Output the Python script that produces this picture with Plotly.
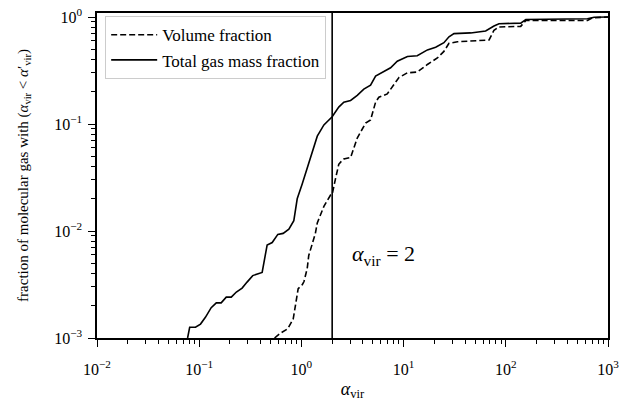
import plotly.graph_objects as go
import numpy as np

# Total gas mass fraction (solid)
alpha_mass = [0.077, 0.0807, 0.092, 0.103, 0.115, 0.131, 0.147, 0.164, 0.184, 0.206,
              0.231, 0.263, 0.294, 0.334, 0.413, 0.462, 0.518, 0.588, 0.663, 0.754,
              0.843, 0.91, 1.02, 1.14, 1.28, 1.43, 1.66, 2.0, 2.32, 2.60,
              3.03, 3.52, 4.08, 4.75, 5.32, 6.42, 7.46, 8.67, 10.9, 13.6,
              17.1, 20.6, 24.8, 27.8, 31.1, 45.3, 63.5, 76.6, 85.7, 140,
              157, 630, 731, 1000]
frac_mass = [1.0e-3, 1.26e-3, 1.26e-3, 1.35e-3, 1.56e-3, 1.92e-3, 2.13e-3, 2.13e-3, 2.41e-3, 2.41e-3,
             2.69e-3, 2.93e-3, 3.33e-3, 3.83e-3, 4.1e-3, 7.4e-3, 7.8e-3, 9.3e-3, 9.5e-3, 1.04e-2,
             1.25e-2, 2.0e-2, 2.77e-2, 3.94e-2, 5.6e-2, 7.7e-2, 9.8e-2, 0.117, 0.144, 0.160,
             0.166, 0.185, 0.212, 0.231, 0.281, 0.313, 0.335, 0.386, 0.428, 0.435,
             0.493, 0.521, 0.575, 0.653, 0.70, 0.71, 0.741, 0.824, 0.865, 0.877,
             0.948, 0.962, 0.995, 1.0]

# Volume fraction (dashed)
alpha_vol = [0.546, 0.624, 0.736, 0.832, 0.93, 1.02, 1.06, 1.14, 1.18, 1.37,
             1.43, 1.66, 1.93, 2.0, 2.16, 2.32, 2.42, 2.60, 3.03, 3.52,
             4.25, 4.75, 5.32, 5.73, 6.92, 8.04, 9.0, 10.9, 13.6, 17.1,
             21.4, 24.8, 27.8, 33.6, 48.9, 68.6, 76.6, 85.7, 140, 157,
             630, 705, 1000]
frac_vol = [1.0e-3, 1.11e-3, 1.22e-3, 1.51e-3, 2.89e-3, 3.15e-3, 3.37e-3, 4.47e-3, 5.9e-3, 9.5e-3,
            1.19e-2, 1.7e-2, 2.17e-2, 2.2e-2, 3.1e-2, 4.2e-2, 4.4e-2, 4.7e-2, 4.86e-2, 0.074,
            0.102, 0.109, 0.160, 0.178, 0.191, 0.236, 0.272, 0.301, 0.306, 0.36,
            0.414, 0.477, 0.568, 0.587, 0.597, 0.61, 0.752, 0.807, 0.818, 0.929,
            0.929, 0.982, 1.0]

alpha_crit = 2.0

x_tickvals = [1e-2, 1e-1, 1e0, 1e1, 1e2, 1e3]
x_ticktext = ["10<sup>−2</sup>", "10<sup>−1</sup>", "10<sup>0</sup>", "10<sup>1</sup>", "10<sup>2</sup>", "10<sup>3</sup>"]
y_tickvals = [1e-3, 1e-2, 1e-1, 1e0]
y_ticktext = ["10<sup>−3</sup>", "10<sup>−2</sup>", "10<sup>−1</sup>", "10<sup>0</sup>"]

x_minor = [m * 10.0**d for d in range(-2, 3) for m in range(2, 10)]
y_minor = [m * 10.0**d for d in range(-3, 0) for m in range(2, 10)]

FONT = "Liberation Serif"

fig = go.Figure()
fig.add_trace(go.Scatter(x=alpha_vol, y=frac_vol, mode="lines", name="Volume fraction",
                         line=dict(color="black", width=1.6, dash="6px,3px")))
fig.add_trace(go.Scatter(x=alpha_mass, y=frac_mass, mode="lines", name="Total gas mass fraction",
                         line=dict(color="black", width=1.6)))
fig.add_trace(go.Scatter(x=[alpha_crit, alpha_crit], y=[1e-4, 10], mode="lines", showlegend=False,
                         line=dict(color="black", width=1.6), hoverinfo="skip"))

fig.add_annotation(x=np.log10(3.0), y=np.log10(0.006), xref="x", yref="y",
                   text="<i>α</i><sub>vir</sub> = 2", showarrow=False, xanchor="left", yanchor="middle",
                   font=dict(family=FONT, size=22, color="black"))

axis_common = dict(type="log", showline=True, linecolor="black", linewidth=1.5, mirror=True,
                   showgrid=False, zeroline=False, ticks="outside", ticklen=7, tickwidth=1.2,
                   tickcolor="black", tickfont=dict(family=FONT, size=16, color="black"))

fig.update_xaxes(range=[-2, 3], tickvals=x_tickvals, ticktext=x_ticktext, ticklabelstandoff=9,
                 minor=dict(tickvals=x_minor, ticks="outside", ticklen=4, tickwidth=1, tickcolor="black"),
                 title=dict(text="<i>α</i><sub>vir</sub>", font=dict(family=FONT, size=18, color="black"), standoff=5),
                 **axis_common)
fig.update_yaxes(range=[-3, np.log10(1.09)], tickvals=y_tickvals, ticktext=y_ticktext, ticklabelstandoff=3,
                 minor=dict(tickvals=y_minor, ticks="outside", ticklen=4, tickwidth=1, tickcolor="black"),
                 title=dict(text="fraction of molecular gas with (<i>α</i><sub>vir</sub> < <i>α</i>′<sub>vir</sub>)",
                            font=dict(family=FONT, size=15, color="black"), standoff=22),
                 **axis_common)

fig.update_layout(
    width=633, height=403,
    margin=dict(l=97, r=25, t=6, b=65),
    paper_bgcolor="white", plot_bgcolor="white",
    font=dict(family=FONT, color="black"),
    legend=dict(x=0.016, y=0.99, xanchor="left", yanchor="top", itemwidth=46,
                bgcolor="rgba(255,255,255,0.8)", bordercolor="#cccccc", borderwidth=1,
                font=dict(family=FONT, size=17, color="black"), tracegroupgap=0),
    showlegend=True,
)

fig.write_html("out.html")
